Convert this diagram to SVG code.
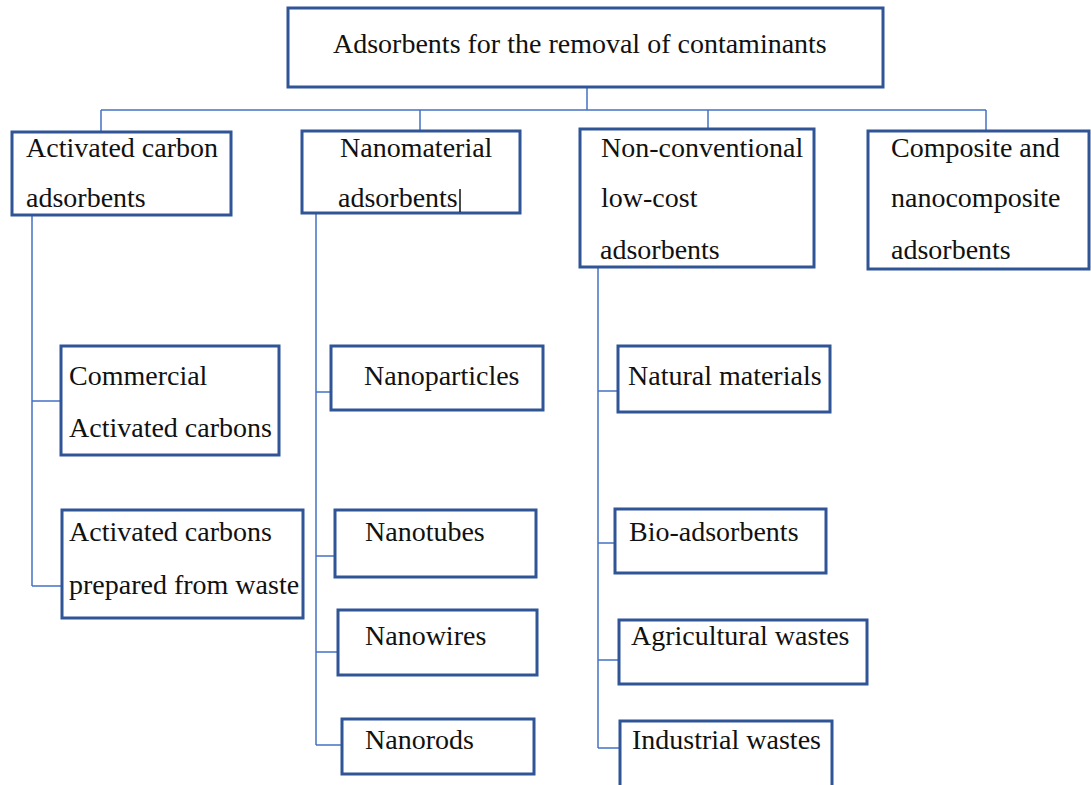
<svg xmlns="http://www.w3.org/2000/svg" width="1091" height="785" viewBox="0 0 1091 785">
<style>
.box{fill:#fff;stroke:#2F5597;stroke-width:3}
.ln{fill:none;stroke:#4472C4;stroke-width:1.5}
text{font-family:"Liberation Serif","Times New Roman",serif;font-size:28px;fill:#111}
</style>
<rect width="1091" height="785" fill="#fff"/>
<g id="connectors">
<path class="ln" d="M587 87V110M101 110H986M101 110V131M420 110V131M708 110V129M986 110V131"/>
<path class="ln" d="M32 215V586M32 401H61M32 586H62"/>
<path class="ln" d="M316 213V745M316 392H331M316 556H335M316 652H338M316 745H342"/>
<path class="ln" d="M598 267V748M598 391H618M598 543H615M598 660H619M598 748H620"/>
</g>
<g id="root"><rect class="box" x="288" y="8" width="595" height="79"/><text x="333" y="53">Adsorbents for the removal of contaminants</text></g>
<g id="activated"><rect class="box" x="12" y="132" width="219" height="83"/><text x="26" y="157">Activated carbon</text><text x="26" y="207">adsorbents</text></g>
<g id="nanomaterial"><rect class="box" x="302" y="131" width="218" height="82"/><text x="340" y="157">Nanomaterial</text><text x="338" y="207">adsorbents</text><path d="M460 189V212" stroke="#111" stroke-width="1.5"/></g>
<g id="nonconv"><rect class="box" x="580" y="129" width="234" height="138"/><text x="601" y="157">Non-conventional</text><text x="601" y="207">low-cost</text><text x="600" y="259">adsorbents</text></g>
<g id="composite"><rect class="box" x="868" y="131" width="221" height="138"/><text x="891" y="157">Composite and</text><text x="891" y="207">nanocomposite</text><text x="891" y="259">adsorbents</text></g>
<g id="commercial"><rect class="box" x="61" y="346" width="218" height="109"/><text x="69" y="385">Commercial</text><text x="69" y="437">Activated carbons</text></g>
<g id="waste"><rect class="box" x="62" y="510" width="241" height="108"/><text x="69" y="541">Activated carbons</text><text x="69" y="594">prepared from waste</text></g>
<g id="nanoparticles"><rect class="box" x="331" y="346" width="212" height="64"/><text x="364" y="385">Nanoparticles</text></g>
<g id="nanotubes"><rect class="box" x="335" y="510" width="201" height="67"/><text x="365" y="541">Nanotubes</text></g>
<g id="nanowires"><rect class="box" x="338" y="610" width="199" height="65"/><text x="365" y="645">Nanowires</text></g>
<g id="nanorods"><rect class="box" x="342" y="719" width="192" height="55"/><text x="365" y="749">Nanorods</text></g>
<g id="natural"><rect class="box" x="618" y="346" width="212" height="66"/><text x="628" y="385">Natural materials</text></g>
<g id="bio"><rect class="box" x="615" y="509" width="211" height="64"/><text x="629" y="541">Bio-adsorbents</text></g>
<g id="agri"><rect class="box" x="619" y="620" width="248" height="64"/><text x="631" y="645">Agricultural wastes</text></g>
<g id="industrial"><rect class="box" x="620" y="721" width="212" height="70"/><text x="632" y="749">Industrial wastes</text></g>
</svg>
